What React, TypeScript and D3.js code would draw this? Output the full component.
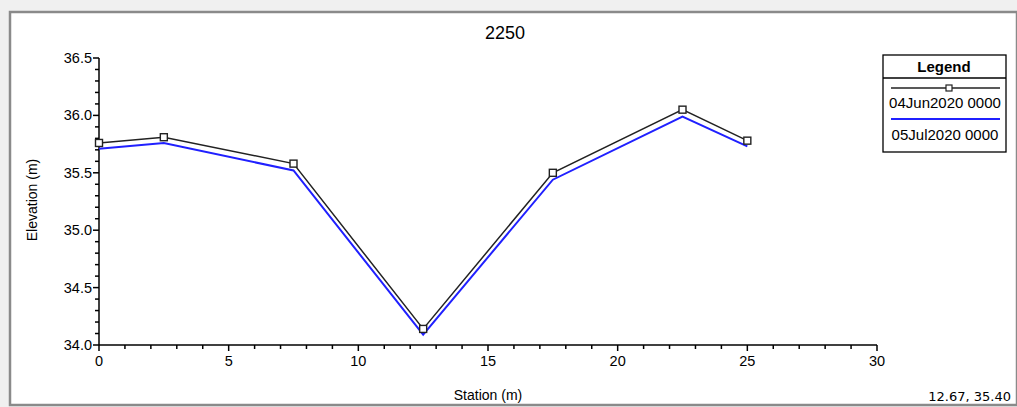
import React, { useEffect, useRef } from 'react';
import * as d3 from 'd3';

const stations = [0, 2.5, 7.5, 12.5, 17.5, 22.5, 25];
const elevJun = [35.76, 35.81, 35.58, 34.14, 35.5, 36.05, 35.78];
const elevJul = [35.71, 35.76, 35.52, 34.09, 35.44, 35.99, 35.73];
const seriesNames = ['04Jun2020 0000', '05Jul2020 0000'];
const xTicks = [0, 5, 10, 15, 20, 25, 30];
const yTicks = [34.0, 34.5, 35.0, 35.5, 36.0, 36.5];

const W = 1017;
const H = 407;

const App = () => {
    const ref = useRef<SVGSVGElement>(null);

    useEffect(() => {
        const svg = d3.select(ref.current);
        svg.selectAll('*').remove();

        // window background + frame
        svg.append('rect').attr('width', W).attr('height', H).attr('fill', '#f0f0f0');
        svg.append('rect').attr('x', 10).attr('y', 12).attr('width', W - 10).attr('height', H - 14)
            .attr('fill', '#fff').attr('stroke', '#8a8a8a').attr('stroke-width', 2.5);

        const x = d3.scaleLinear().domain([0, 30]).range([99, 877]);
        const y = d3.scaleLinear().domain([34, 36.5]).range([345, 58]);
        const font = '"Liberation Sans", Arial, sans-serif';

        // title
        svg.append('text').attr('x', 505).attr('y', 39).attr('text-anchor', 'middle')
            .attr('font-family', font).attr('font-size', 18).text('2250');

        // x axis
        const xAxis = svg.append('g').attr('font-family', font);
        xAxis.append('line').attr('x1', x(0)).attr('x2', x(30)).attr('y1', y(34)).attr('y2', y(34))
            .attr('stroke', '#000').attr('stroke-width', 1.5);
        d3.range(0, 31, 1).forEach(v => {
            const major = v % 5 === 0;
            xAxis.append('line').attr('x1', x(v)).attr('x2', x(v)).attr('y1', y(34))
                .attr('y2', y(34) + (major ? 6 : 4)).attr('stroke', '#000').attr('stroke-width', 1.5);
        });
        xTicks.forEach(v => {
            xAxis.append('text').attr('x', x(v)).attr('y', y(34) + 21).attr('text-anchor', 'middle')
                .attr('font-size', 14.5).text(d3.format('d')(v));
        });

        // y axis
        const yAxis = svg.append('g').attr('font-family', font);
        yAxis.append('line').attr('x1', x(0)).attr('x2', x(0)).attr('y1', y(34)).attr('y2', y(36.5))
            .attr('stroke', '#000').attr('stroke-width', 1.5);
        d3.range(0, 26, 1).forEach(i => {
            const v = 34 + i * 0.1;
            const major = i % 5 === 0;
            yAxis.append('line').attr('x1', x(0) - (major ? 6 : 4)).attr('x2', x(0)).attr('y1', y(v))
                .attr('y2', y(v)).attr('stroke', '#000').attr('stroke-width', 1.5);
        });
        yTicks.forEach(v => {
            yAxis.append('text').attr('x', x(0) - 7).attr('y', y(v) + 5).attr('text-anchor', 'end')
                .attr('font-size', 14.5).text(d3.format('.1f')(v));
        });

        svg.append('text').attr('x', 488).attr('y', 400).attr('text-anchor', 'middle')
            .attr('font-family', font).attr('font-size', 14).text('Station (m)');
        svg.append('text').attr('transform', 'translate(37,200) rotate(-90)').attr('text-anchor', 'middle')
            .attr('font-family', font).attr('font-size', 14).text('Elevation (m)');

        const line = d3.line<number>().x((_, i) => x(stations[i])).y(d => y(d));

        svg.append('path').datum(elevJul).attr('fill', 'none').attr('stroke', '#2020ff')
            .attr('stroke-width', 2).attr('d', line);
        svg.append('path').datum(elevJun).attr('fill', 'none').attr('stroke', '#222')
            .attr('stroke-width', 1.5).attr('d', line);
        svg.selectAll('rect.pt').data(elevJun).enter().append('rect').attr('class', 'pt')
            .attr('x', (_, i) => x(stations[i]) - 3.5).attr('y', d => y(d) - 3.5)
            .attr('width', 7).attr('height', 7).attr('fill', '#fff').attr('stroke', '#222').attr('stroke-width', 1.4);

        // legend
        const lg = svg.append('g').attr('font-family', font);
        lg.append('rect').attr('x', 883).attr('y', 55).attr('width', 123).attr('height', 97)
            .attr('fill', '#fff').attr('stroke', '#000').attr('stroke-width', 1.3);
        lg.append('line').attr('x1', 883).attr('x2', 1006).attr('y1', 78).attr('y2', 78)
            .attr('stroke', '#000').attr('stroke-width', 1.3);
        lg.append('text').attr('x', 944).attr('y', 72).attr('text-anchor', 'middle')
            .attr('font-size', 15).attr('font-weight', 'bold').text('Legend');
        lg.append('line').attr('x1', 891).attr('x2', 1000).attr('y1', 88).attr('y2', 88)
            .attr('stroke', '#222').attr('stroke-width', 1.5);
        lg.append('rect').attr('x', 946).attr('y', 85).attr('width', 6).attr('height', 6)
            .attr('fill', '#fff').attr('stroke', '#222').attr('stroke-width', 1.2);
        lg.append('text').attr('x', 945).attr('y', 108).attr('text-anchor', 'middle')
            .attr('font-size', 15).text(seriesNames[0]);
        lg.append('line').attr('x1', 891).attr('x2', 1000).attr('y1', 119).attr('y2', 119)
            .attr('stroke', '#2020ff').attr('stroke-width', 2);
        lg.append('text').attr('x', 945).attr('y', 140).attr('text-anchor', 'middle')
            .attr('font-size', 15).text(seriesNames[1]);

        // cursor readout
        svg.append('text').attr('x', 1011).attr('y', 401).attr('text-anchor', 'end')
            .attr('font-family', '"DejaVu Sans", Tahoma, sans-serif').attr('font-size', 13)
            .text('12.67, 35.40');
    }, []);

    return <svg ref={ref} width={W} height={H} style={{ position: 'absolute', left: 0, top: 0 }} />;
};

export default App;
